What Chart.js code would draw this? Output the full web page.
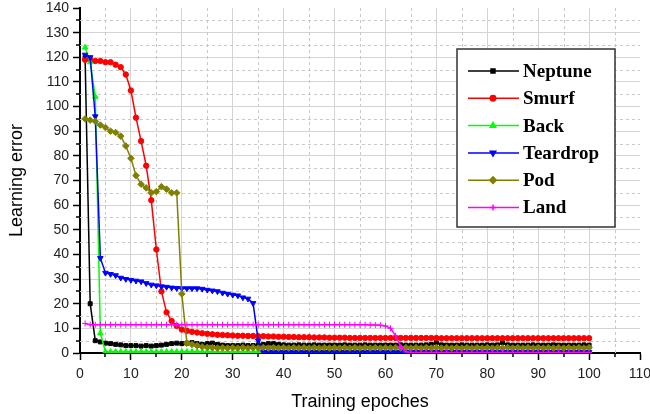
<!DOCTYPE html>
<html>
<head>
<meta charset="utf-8">
<script src="https://cdn.jsdelivr.net/npm/chart.js@4.4.1/dist/chart.umd.min.js"></script>
<style>
  html, body { margin: 0; padding: 0; background: #fff; }
  #wrap { width: 650px; height: 414px; }
</style>
</head>
<body>
<div id="wrap"><canvas id="lossChart" width="650" height="414"></canvas></div>
<script>
// values, one per training epoch (1..100)
var epochs = Array.from({length: 100}, function (_, i) { return i + 1; });

var neptune = [
  120, 20, 5, 4.5, 4, 3.8, 3.5, 3.3, 3, 3,
  3, 2.8, 3, 2.8, 3, 3.2, 3.5, 3.8, 4, 3.8,
  4, 4.2, 3.8, 3.5, 3.8, 4, 3.5, 3.2, 3, 3,
  3, 3.2, 3, 3, 3.3, 3.5, 3.8, 3.8, 3.5, 3.3,
  3.2, 3.2, 3.3, 3.2, 3.2, 3.3, 3.2, 3.2, 3.2, 3.2,
  3.2, 3.3, 3.2, 3.2, 3.2, 3.3, 3.2, 3.2, 3.2, 3.2,
  3.2, 3.2, 3.3, 3.2, 3.2, 3.2, 3.2, 3.3, 3.5, 4.2,
  3.3, 3.2, 3.2, 3.2, 3.3, 3.2, 3.2, 3.2, 3.2, 3.3,
  3.2, 3.3, 4.2, 3.3, 3.2, 3.2, 3.2, 3.2, 3.3, 3.2,
  3.2, 3.2, 3.3, 3.2, 3.2, 3.2, 3.2, 3.2, 3.3, 3.2
];
var smurf = [
  119, 119, 118.5, 118.5, 118, 118, 117, 116, 113, 106.5,
  95.5, 86, 76, 62, 42, 25, 16.5, 13, 11, 9.5,
  9, 8.6, 8.3, 8, 7.8, 7.6, 7.4, 7.3, 7.2, 7.1,
  7, 7, 6.9, 6.9, 6.8, 6.8, 6.7, 6.7, 6.6, 6.6,
  6.5, 6.5, 6.4, 6.4, 6.4, 6.3, 6.3, 6.3, 6.2, 6.2,
  6.2, 6.2, 6.1, 6.1, 6.1, 6.1, 6.1, 6.1, 6.1, 6.1,
  6.1, 6.1, 6.1, 6.1, 6.1, 6.1, 6.1, 6.1, 6.1, 6.1,
  6, 6, 6, 6, 6, 6, 6, 6, 6, 6,
  6, 6, 6, 6, 6, 6, 6, 6, 6, 6,
  6, 6, 6, 6, 6, 6, 6, 6, 6, 6
];
var back = [
  124, 118, 104, 8, 0.5, 0.5, 0.5, 0.5, 0.5, 0.5,
  0.5, 0.5, 0.5, 0.5, 0.5, 0.5, 0.5, 0.5, 0.5, 0.5,
  0.5, 0.5, 0.5, 0.5, 0.5, 0.5, 0.5, 0.5, 0.5, 0.5,
  0.5, 0.5, 0.5, 0.5, 0.5, 0.5, 0.5, 0.5, 0.5, 0.5,
  0.5, 0.5, 0.5, 0.5, 0.5, 0.5, 0.5, 0.5, 0.5, 0.5,
  0.5, 0.5, 0.5, 0.5, 0.5, 0.5, 0.5, 0.5, 0.5, 0.5,
  0.5, 0.5, 0.5, 0.5, 0.5, 0.5, 0.5, 0.5, 0.5, 0.5,
  0.5, 0.5, 0.5, 0.5, 0.5, 0.5, 0.5, 0.5, 0.5, 0.5,
  0.5, 0.5, 0.5, 0.5, 0.5, 0.5, 0.5, 0.5, 0.5, 0.5,
  0.5, 0.5, 0.5, 0.5, 0.5, 0.5, 0.5, 0.5, 0.5, 0.5
];
var teardrop = [
  121, 120, 96, 38.5, 32.5, 32, 31.5, 30.5, 30, 29.6,
  29.3, 29, 28.3, 27.7, 27.4, 27, 26.8, 26.5, 26.3, 26.2,
  26.2, 26.2, 26.2, 26, 25.6, 25.3, 25, 24.4, 24, 23.6,
  23.3, 22.5, 22, 20.2, 5, 0.4, 0.4, 0.4, 0.4, 0.4,
  0.4, 0.4, 0.4, 0.4, 0.4, 0.4, 0.4, 0.4, 0.4, 0.4,
  0.4, 0.4, 0.4, 0.4, 0.4, 0.4, 0.4, 0.4, 0.4, 0.4,
  0.4, 0.4, 0.4, 0.4, 0.4, 0.4, 0.4, 0.4, 0.4, 0.4,
  0.4, 0.4, 0.4, 0.4, 0.4, 0.4, 0.4, 0.4, 0.4, 0.4,
  0.4, 0.4, 0.4, 0.4, 0.4, 0.4, 0.4, 0.4, 0.4, 0.4,
  0.4, 0.4, 0.4, 0.4, 0.4, 0.4, 0.4, 0.4, 0.4, 0.4
];
var pod = [
  95, 94.5, 94, 92.5, 91.5, 90, 89.5, 88, 84, 79,
  72, 68.5, 67, 65, 65.5, 67.5, 66.5, 65, 65, 24,
  4, 3.5, 3, 2.5, 2.3, 2.2, 2, 2.2, 2, 2.2,
  2, 2.2, 2, 2.2, 2, 2.2, 2, 2.2, 2, 2.2,
  2, 2.2, 2, 2.2, 2, 2.2, 2, 2.2, 2, 2.2,
  2, 2.2, 2, 2.2, 2, 2.2, 2, 2.2, 2, 2.2,
  2, 2.2, 2, 2.2, 2, 2.2, 2, 2.2, 2, 2.2,
  2, 2.2, 2, 2.2, 2, 2.2, 2, 2.2, 2, 2.2,
  2, 2.2, 2, 2.2, 2, 2.2, 2, 2.2, 2, 2.2,
  2, 2.2, 2, 2.2, 2, 2.2, 2, 2.2, 2, 2.2
];
var land = [
  12, 11.5, 11.5, 11.5, 11.5, 11.5, 11.5, 11.5, 11.5, 11.5,
  11.5, 11.5, 11.5, 11.5, 11.5, 11.5, 11.5, 11.5, 11.5, 11.5,
  11.5, 11.5, 11.5, 11.5, 11.5, 11.5, 11.5, 11.5, 11.5, 11.5,
  11.5, 11.5, 11.5, 11.5, 11.5, 11.5, 11.5, 11.5, 11.5, 11.5,
  11.5, 11.5, 11.5, 11.5, 11.5, 11.5, 11.5, 11.5, 11.5, 11.5,
  11.5, 11.5, 11.5, 11.5, 11.5, 11.5, 11.4, 11.4, 11.3, 11,
  10, 7, 2.5, 0.5, 0.2, 0.2, 0.2, 0.2, 0.2, 0.2,
  0.2, 0.2, 0.2, 0.2, 0.2, 0.2, 0.2, 0.2, 0.2, 0.2,
  0.2, 0.2, 0.2, 0.2, 0.2, 0.2, 0.2, 0.2, 0.2, 0.2,
  0.2, 0.2, 0.2, 0.2, 0.2, 0.2, 0.2, 0.2, 0.2, 0.2
];

var seriesNames = ['Neptune', 'Smurf', 'Back', 'Teardrop', 'Pod', 'Land'];
var seriesColors = ['#000000', '#ff0000', '#00ff00', '#0000ff', '#808000', '#ff00ff'];
var seriesMarkers = ['rect', 'circle', 'triangle', 'triangle', 'rectRot', 'cross'];
var markerRotation = [0, 0, 0, 180, 0, 0];
var markerRadius = [2.8, 2.7, 3.2, 3.2, 3.3, 3];
var seriesValues = [neptune, smurf, back, teardrop, pod, land];

var xTicks = [0, 10, 20, 30, 40, 50, 60, 70, 80, 90, 100, 110];
var yTicks = [0, 10, 20, 30, 40, 50, 60, 70, 80, 90, 100, 110, 120, 130, 140];

function toPoints(vals) {
  return vals.map(function (v, i) { return {x: epochs[i], y: v}; });
}

var datasets = seriesNames.map(function (name, k) {
  return {
    label: name,
    data: toPoints(seriesValues[k]),
    borderColor: seriesColors[k],
    backgroundColor: seriesColors[k],
    borderWidth: 1.5,
    pointStyle: seriesMarkers[k],
    pointRotation: markerRotation[k],
    pointRadius: markerRadius[k],
    pointBorderWidth: 1,
    tension: 0,
    order: seriesNames.length - k   // later series drawn on top
  };
});

// dashed grid lines and short ticks halfway between the major ones
var minorGrid = {
  id: 'minorGrid',
  beforeDatasetsDraw: function (chart) {
    var ctx = chart.ctx, a = chart.chartArea;
    var sx = chart.scales.x, sy = chart.scales.y;
    ctx.save();
    ctx.strokeStyle = '#c8c8c8';
    ctx.lineWidth = 1;
    ctx.setLineDash([3, 3]);
    for (var v = 5; v < 110; v += 10) {
      var px = Math.round(sx.getPixelForValue(v)) + 0.5;
      ctx.beginPath(); ctx.moveTo(px, a.top); ctx.lineTo(px, a.bottom); ctx.stroke();
    }
    for (var w = 5; w < 140; w += 10) {
      var py = Math.round(sy.getPixelForValue(w)) + 0.5;
      ctx.beginPath(); ctx.moveTo(a.left, py); ctx.lineTo(a.right, py); ctx.stroke();
    }
    ctx.setLineDash([]);
    ctx.strokeStyle = '#000';
    ctx.lineWidth = 1.5;
    for (v = 5; v < 110; v += 10) {
      px = Math.round(sx.getPixelForValue(v));
      ctx.beginPath(); ctx.moveTo(px, a.bottom); ctx.lineTo(px, a.bottom + 4); ctx.stroke();
    }
    for (w = 5; w < 140; w += 10) {
      py = Math.round(sy.getPixelForValue(w));
      ctx.beginPath(); ctx.moveTo(a.left, py); ctx.lineTo(a.left - 4, py); ctx.stroke();
    }
    ctx.restore();
  }
};

// boxed legend sitting inside the plot, top right
var boxLegend = {
  id: 'boxLegend',
  afterDraw: function (chart) {
    var ctx = chart.ctx;
    var bx = 457, by = 49, bw = 158, bh = 178;
    ctx.save();
    ctx.fillStyle = '#ffffff';
    ctx.fillRect(bx, by, bw, bh);
    ctx.strokeStyle = '#333333';
    ctx.lineWidth = 1.5;
    ctx.strokeRect(bx, by, bw, bh);
    ctx.font = 'bold 19px "Liberation Serif", "Times New Roman", serif';
    ctx.textBaseline = 'middle';
    chart.data.datasets.forEach(function (ds, k) {
      var y = 71 + k * 27.3;
      ctx.strokeStyle = ds.borderColor;
      ctx.lineWidth = 1.5;
      ctx.beginPath(); ctx.moveTo(468, y); ctx.lineTo(519, y); ctx.stroke();
      ctx.fillStyle = ds.backgroundColor;
      Chart.helpers.drawPoint(ctx, {
        pointStyle: ds.pointStyle, radius: ds.pointRadius,
        rotation: ds.pointRotation, borderWidth: 1
      }, 493, y);
      ctx.fillStyle = '#000';
      ctx.fillText(ds.label, 523, y + 1);
    });
    ctx.restore();
  }
};

function majorOnly(values) {
  return function (v) { return values.indexOf(v) >= 0 ? String(v) : ''; };
}
function majorTick(c) {
  return (c.tick && c.tick.value % 10 === 0) ? '#000' : 'rgba(0,0,0,0)';
}

var ctx = document.getElementById('lossChart').getContext('2d');
var chart = new Chart(ctx, {
  type: 'line',
  data: {datasets: datasets},
  plugins: [minorGrid, boxLegend],
  options: {
    responsive: false,
    animation: false,
    layout: {padding: {top: 8, right: 10, left: 0, bottom: 0}},
    plugins: {legend: {display: false}, tooltip: {enabled: false}},
    scales: {
      x: {
        type: 'linear', min: 0, max: 110,
        ticks: {
          stepSize: 5, autoSkip: false, maxRotation: 0, padding: 6,
          color: '#222', font: {family: '"Liberation Sans", Arial, sans-serif', size: 14},
          callback: majorOnly(xTicks)
        },
        grid: {
          color: function (c) {
            var v = c.tick ? c.tick.value : -1;
            return (v % 10 === 0 && v > 0 && v < 110) ? '#d4d4d4' : 'rgba(0,0,0,0)';
          },
          tickColor: majorTick, tickLength: 7, tickWidth: 1.5, lineWidth: 1
        },
        border: {color: '#000', width: 2},
        title: {
          display: true, text: 'Training epoches', color: '#000',
          font: {family: '"Liberation Sans", Arial, sans-serif', size: 18},
          padding: {top: 0, bottom: 1}
        },
        afterFit: function (s) { s.height = 61; s.paddingLeft = 0; s.paddingRight = 0; }
      },
      y: {
        type: 'linear', min: 0, max: 140,
        ticks: {
          stepSize: 5, autoSkip: false, padding: 4,
          color: '#222', font: {family: '"Liberation Sans", Arial, sans-serif', size: 14},
          callback: majorOnly(yTicks)
        },
        grid: {
          color: function (c) {
            var v = c.tick ? c.tick.value : -1;
            return (v % 10 === 0 && v > 0 && v < 140) ? '#d4d4d4' : 'rgba(0,0,0,0)';
          },
          tickColor: majorTick, tickLength: 7, tickWidth: 1.5, lineWidth: 1
        },
        border: {color: '#000', width: 2},
        title: {
          display: true, text: 'Learning error', color: '#000',
          font: {family: '"Liberation Sans", Arial, sans-serif', size: 18},
          padding: {top: 6, bottom: 0}
        },
        afterFit: function (s) { s.width = 80; s.paddingTop = 0; s.paddingBottom = 0; }
      }
    }
  }
});
</script>
</body>
</html>
